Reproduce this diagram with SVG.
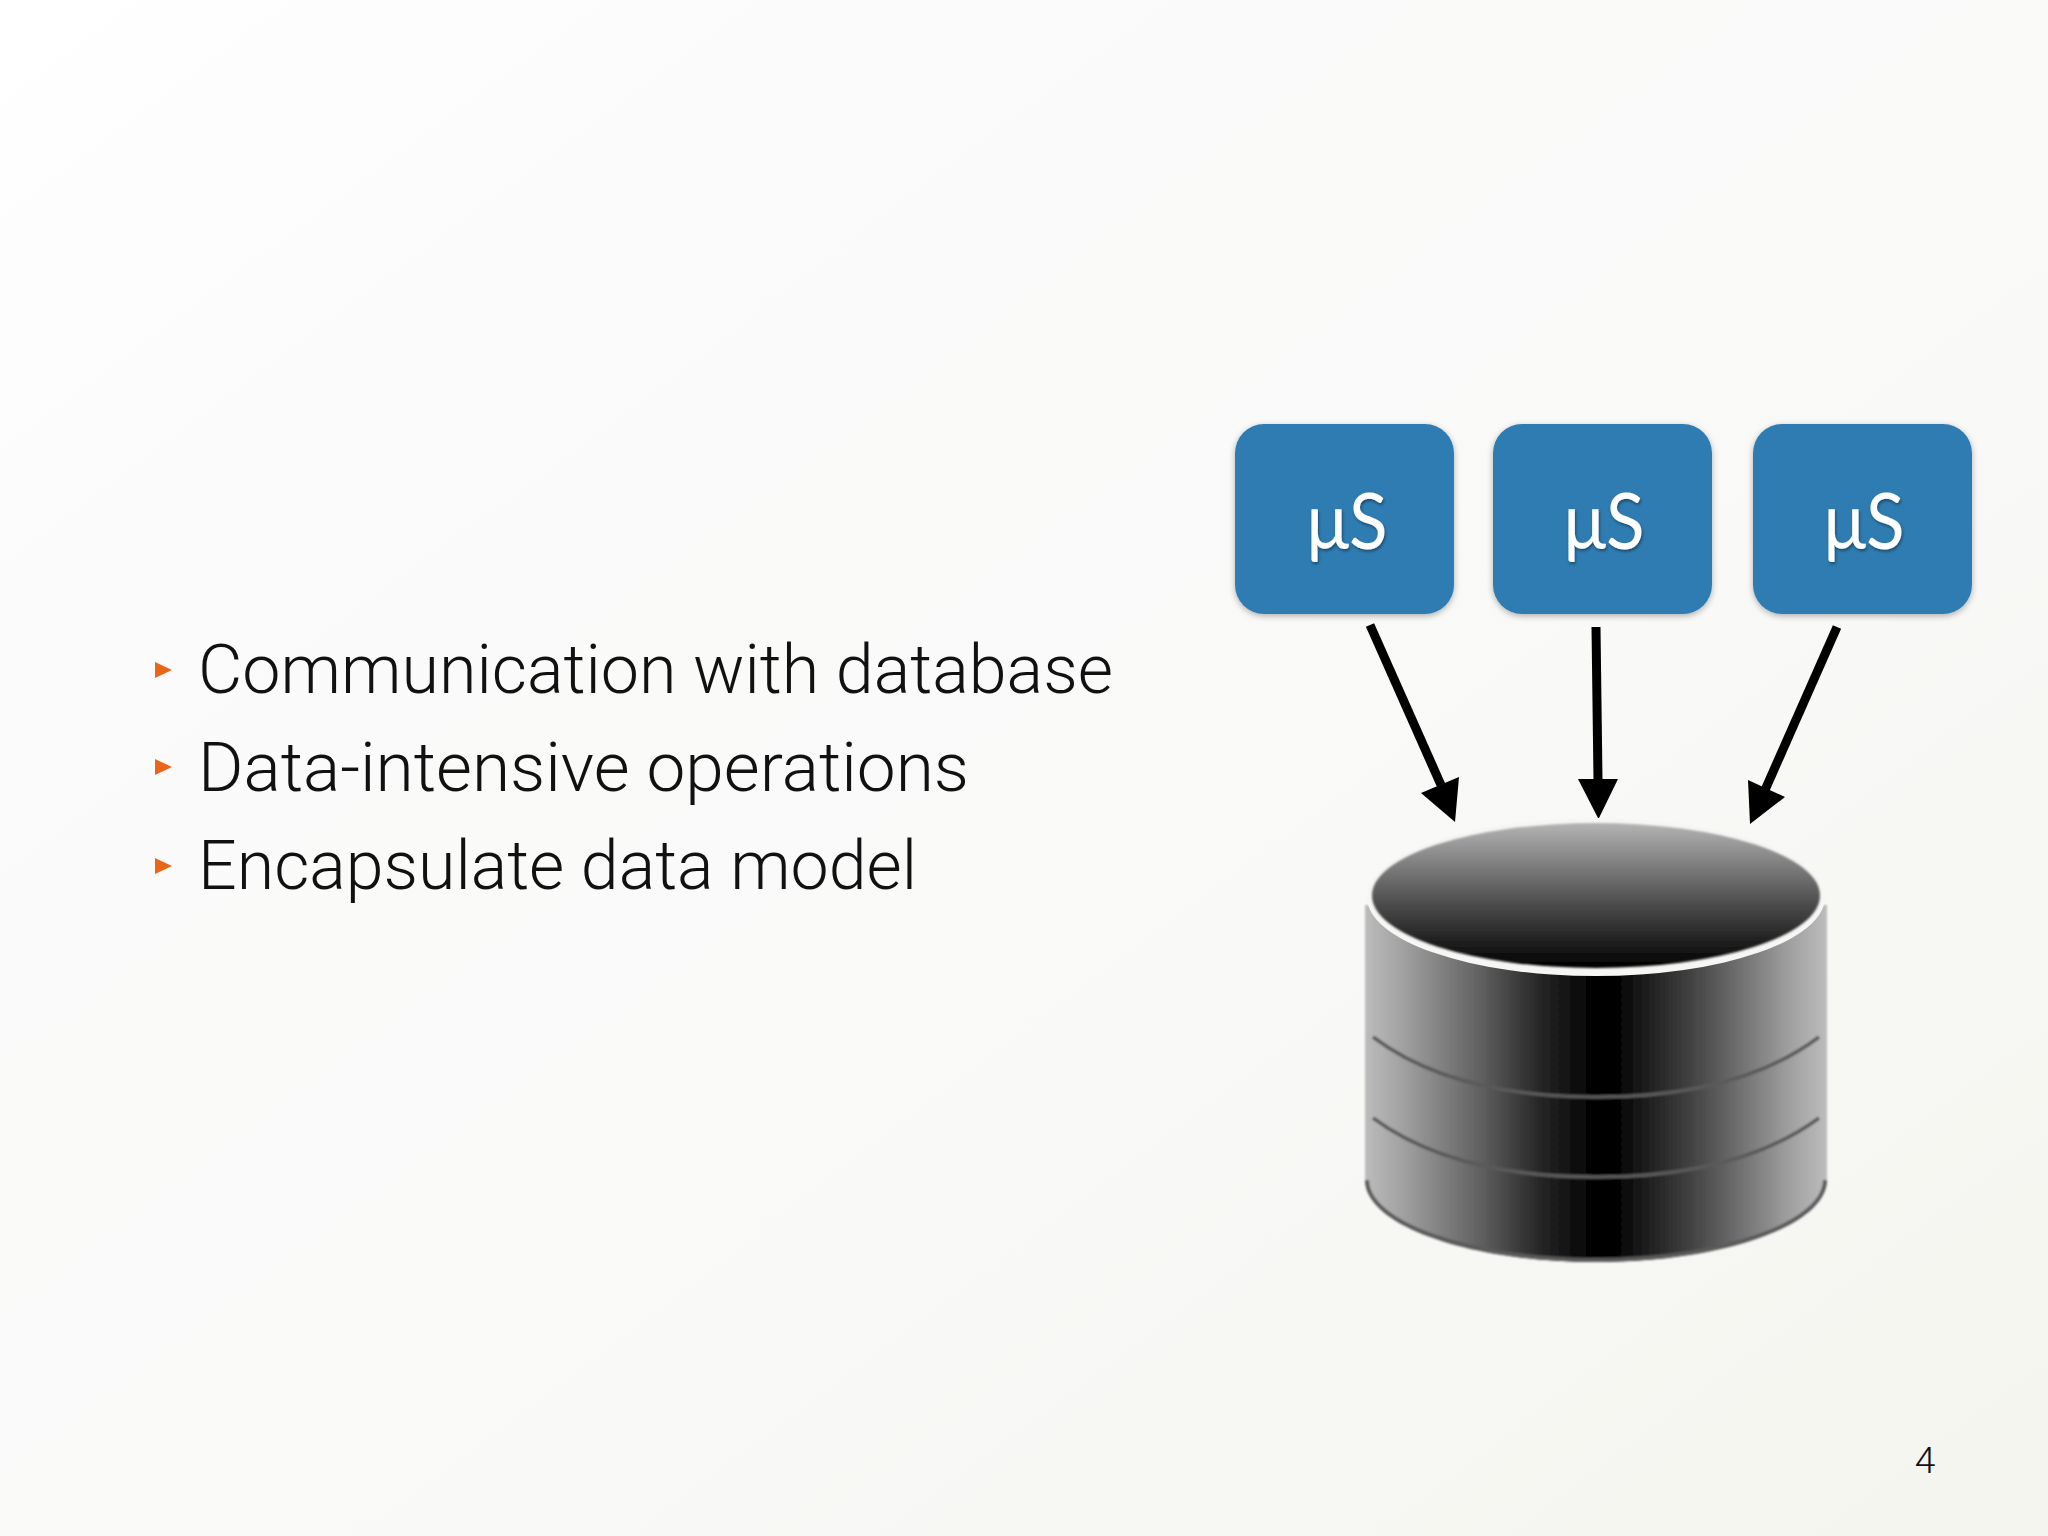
<svg xmlns="http://www.w3.org/2000/svg" width="2048" height="1536" viewBox="0 0 2048 1536">
<style>
.b{font-family:"Roboto","Liberation Sans",sans-serif;font-weight:300;font-size:68px;fill:#111}
.m{font-family:"Lato","Liberation Sans",sans-serif;font-size:78px;fill:#fff;text-anchor:middle;filter:url(#ts)}
.box{fill:#2f7cb1;filter:url(#bs)}
.bullet{fill:#e8651a}
.arrow{fill:none;stroke:#000;stroke-width:9}
.head{fill:#000}
.band{fill:none;stroke:#5a5a5a;stroke-width:3.500}
</style>
<defs>
<linearGradient id="bg" x1="0" y1="0" x2="1" y2="1"><stop offset="0" stop-color="#ffffff"/><stop offset="0.2" stop-color="#fbfbfb"/><stop offset="0.6" stop-color="#f9f9f8"/><stop offset="1" stop-color="#f4f5ee"/></linearGradient>
<linearGradient id="side" x1="0" y1="0" x2="1" y2="0"><stop offset="0" stop-color="#bcbcbc"/><stop offset="0.08" stop-color="#a2a2a2"/><stop offset="0.25" stop-color="#606060"/><stop offset="0.38" stop-color="#262626"/><stop offset="0.44" stop-color="#131313"/><stop offset="0.5" stop-color="#000"/><stop offset="0.54" stop-color="#000"/><stop offset="0.6" stop-color="#1a1a1a"/><stop offset="0.72" stop-color="#484848"/><stop offset="0.92" stop-color="#a0a0a0"/><stop offset="1" stop-color="#bcbcbc"/></linearGradient>
<linearGradient id="top" x1="0" y1="0" x2="0" y2="1"><stop offset="0" stop-color="#b4b4b4"/><stop offset="0.55" stop-color="#4e4e4e"/><stop offset="1" stop-color="#000"/></linearGradient>
<filter id="bs" x="-10%" y="-10%" width="120%" height="120%"><feDropShadow dx="0" dy="2" stdDeviation="3" flood-color="#000" flood-opacity="0.3"/></filter>
<filter id="ts" x="-20%" y="-20%" width="140%" height="140%"><feDropShadow dx="1" dy="2" stdDeviation="1.500" flood-color="#000" flood-opacity="0.4"/></filter>
<filter id="soft" x="-5%" y="-5%" width="110%" height="110%"><feGaussianBlur stdDeviation="1"/></filter>
<clipPath id="bc"><path d="M1365 905V1180C1365 1225 1468 1262 1596 1262S1827 1225 1827 1180V905Z"/></clipPath>
</defs>
<rect id="background" width="2048" height="1536" fill="url(#bg)"/>
<g id="bullets">
<text class="b" x="198" y="693" textLength="915" lengthAdjust="spacingAndGlyphs">Communication with database</text>
<text class="b" x="198" y="791" textLength="771" lengthAdjust="spacingAndGlyphs">Data-intensive operations</text>
<text class="b" x="198" y="889" textLength="719" lengthAdjust="spacingAndGlyphs">Encapsulate data model</text>
<path class="bullet" d="M155 662L172 670L155 678Z"/>
<path class="bullet" d="M155 759L172 767L155 775Z"/>
<path class="bullet" d="M155 858L172 866L155 874Z"/>
</g>
<g id="node-ms1"><rect class="box" x="1235" y="424" width="219" height="190" rx="29"/><text class="m" x="1347" y="549" textLength="81" lengthAdjust="spacingAndGlyphs">μS</text></g>
<g id="node-ms2"><rect class="box" x="1493" y="424" width="219" height="190" rx="29"/><text class="m" x="1604" y="549" textLength="81" lengthAdjust="spacingAndGlyphs">μS</text></g>
<g id="node-ms3"><rect class="box" x="1753" y="424" width="219" height="190" rx="29"/><text class="m" x="1864" y="549" textLength="81" lengthAdjust="spacingAndGlyphs">μS</text></g>
<g id="connectors">
<path class="arrow" d="M1370 625L1441 785"/><path class="head" d="M1455 822L1421 793L1459 777Z"/>
<path class="arrow" d="M1596 627L1598 780"/><path class="head" d="M1598.500 819L1578 779H1618Z"/>
<path class="arrow" d="M1837 627L1765 790"/><path class="head" d="M1750 824L1748 780L1785 797Z"/>
</g>
<g id="node-database">
<g filter="url(#soft)">
<path d="M1365 905V1180C1365 1225 1468 1262 1596 1262S1827 1225 1827 1180V905Z" fill="url(#side)"/>
<g clip-path="url(#bc)">
<path class="band" d="M1373 1037C1430 1080 1510 1097 1596 1097S1762 1080 1819 1037"/>
<path class="band" d="M1373 1118C1430 1160 1510 1177 1596 1177S1762 1160 1819 1118"/>
<path class="band" style="stroke-width:8" d="M1365 1180C1365 1225 1468 1262 1596 1262S1827 1225 1827 1180"/>
</g>
</g>
<ellipse cx="1596" cy="897" rx="229" ry="79" fill="#f6f6f4"/>
<ellipse cx="1596" cy="895.500" rx="224" ry="72.500" fill="url(#top)" filter="url(#soft)"/>
</g>
<text id="page-number" x="1925" y="1473" font-family="Roboto,'Liberation Sans',sans-serif" font-weight="300" font-size="37" fill="#111" text-anchor="middle">4</text>
</svg>
